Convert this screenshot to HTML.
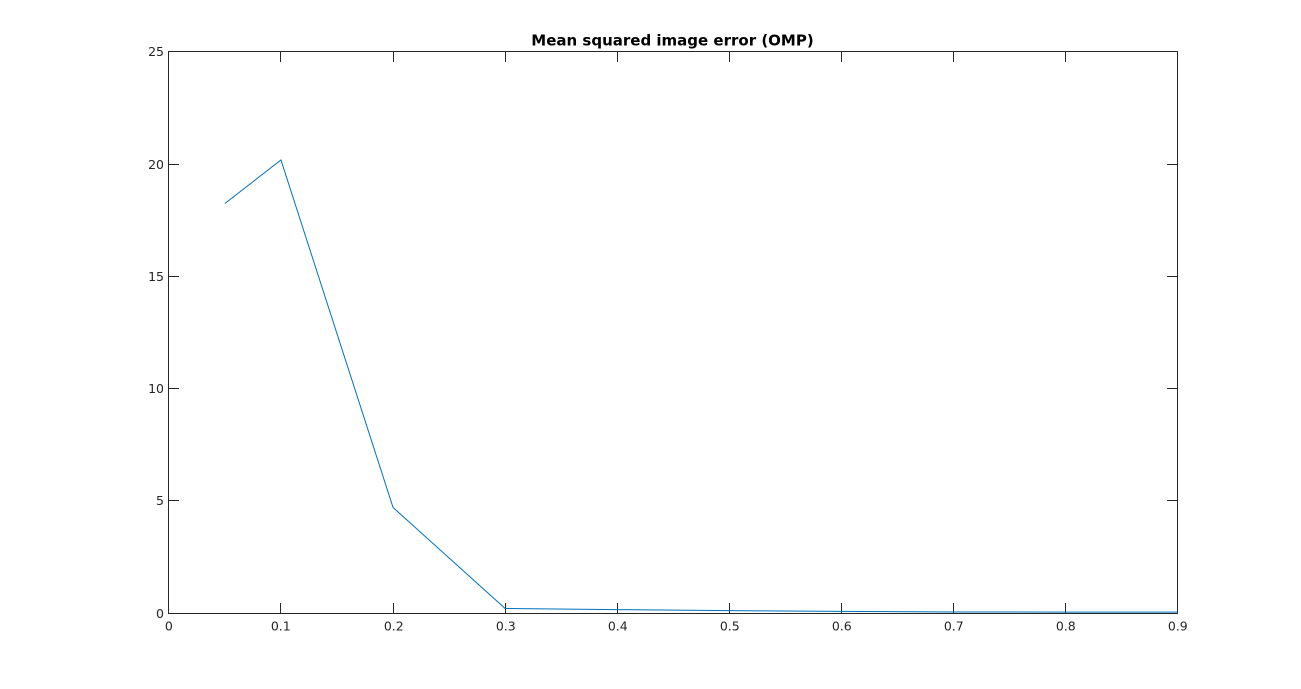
<!DOCTYPE html>
<html>
<head>
<meta charset="utf-8">
<title>Mean squared image error (OMP)</title>
<style>
html,body{margin:0;padding:0;background:#fff;width:1301px;height:689px;overflow:hidden}
svg{display:block}
text{font-family:"DejaVu Sans","Liberation Sans",sans-serif}
</style>
</head>
<body>
<svg id="chart" width="1301" height="689" viewBox="0 0 1301 689" xmlns="http://www.w3.org/2000/svg"></svg>
<script>
const xTicks = [0, 0.1, 0.2, 0.3, 0.4, 0.5, 0.6, 0.7, 0.8, 0.9];
const yTicks = [0, 5, 10, 15, 20, 25];
const xValues = [0.05, 0.1, 0.2, 0.3, 0.4, 0.5, 0.6, 0.7, 0.8, 0.9];
const mseValues = [18.24, 20.18, 4.7, 0.2, 0.15, 0.105, 0.07, 0.047, 0.038, 0.038];
const titleText = 'Mean squared image error (OMP)';

const boxLeft = 168.5, boxRight = 1177.5, boxTop = 51.5, boxBottom = 613.5;
const rangeLeft = 168.85, rangeRight = 1177.75, rangeTop = 51.75, rangeBottom = 613;
const xMin = 0, xMax = 0.9, yMin = 0, yMax = 25;
const tickLen = 10;
const axisColor = '#262626';
const svg = document.getElementById('chart');
const NS = 'http://www.w3.org/2000/svg';

function xScale(v) { return rangeLeft + (v - xMin) / (xMax - xMin) * (rangeRight - rangeLeft); }
function yScale(v) { return rangeBottom - (v - yMin) / (yMax - yMin) * (rangeBottom - rangeTop); }
function snap(v) { return Math.floor(v) + 0.5; }

function make(tag, attrs, parent) {
  const el = document.createElementNS(NS, tag);
  for (const k in attrs) el.setAttribute(k, attrs[k]);
  (parent || svg).appendChild(el);
  return el;
}

const box = make('rect', {x: boxLeft, y: boxTop, width: boxRight - boxLeft, height: boxBottom - boxTop, fill: '#fff', stroke: axisColor, 'stroke-width': 1});



xTicks.forEach(function (t) {
  const x = snap(xScale(t));
  if (t !== xMin && t !== xMax) {
    const bottomTick = make('line', {x1: x, x2: x, y1: boxBottom, y2: boxBottom - tickLen - 0.5, stroke: axisColor, 'stroke-width': 1});
    
    
    const topTick = make('line', {x1: x, x2: x, y1: boxTop, y2: boxTop + tickLen + 0.5, stroke: axisColor, 'stroke-width': 1});
    
    
  }
  const label = make('text', {x: x + 0.3, y: 630.3, 'text-anchor': 'middle', 'font-size': 12.5, fill: axisColor});
  label.textContent = String(t);
  
  
});

yTicks.forEach(function (t) {
  const y = snap(yScale(t));
  if (t !== yMin && t !== yMax) {
    const leftTick = make('line', {x1: boxLeft, x2: boxLeft + tickLen + 0.5, y1: y, y2: y, stroke: axisColor, 'stroke-width': 1});
    
    
    const rightTick = make('line', {x1: boxRight, x2: boxRight - tickLen - 0.5, y1: y, y2: y, stroke: axisColor, 'stroke-width': 1});
    
    
  }
  const label = make('text', {x: 164, y: y + 4.6, 'text-anchor': 'end', 'font-size': 12.5, fill: axisColor});
  label.textContent = String(t);
  
  
});

const points = xValues.map(function (x, i) { return xScale(x).toFixed(2) + ',' + yScale(mseValues[i]).toFixed(2); }).join(' ');
const line = make('polyline', {points: points, fill: 'none', stroke: '#0072bd', 'stroke-width': 1, 'stroke-linejoin': 'miter'});



const title = make('text', {x: 672.5, y: 45.5, 'text-anchor': 'middle', 'font-size': 15, 'font-weight': 'bold', fill: '#000'});
title.textContent = titleText;


</script>
</body>
</html>
